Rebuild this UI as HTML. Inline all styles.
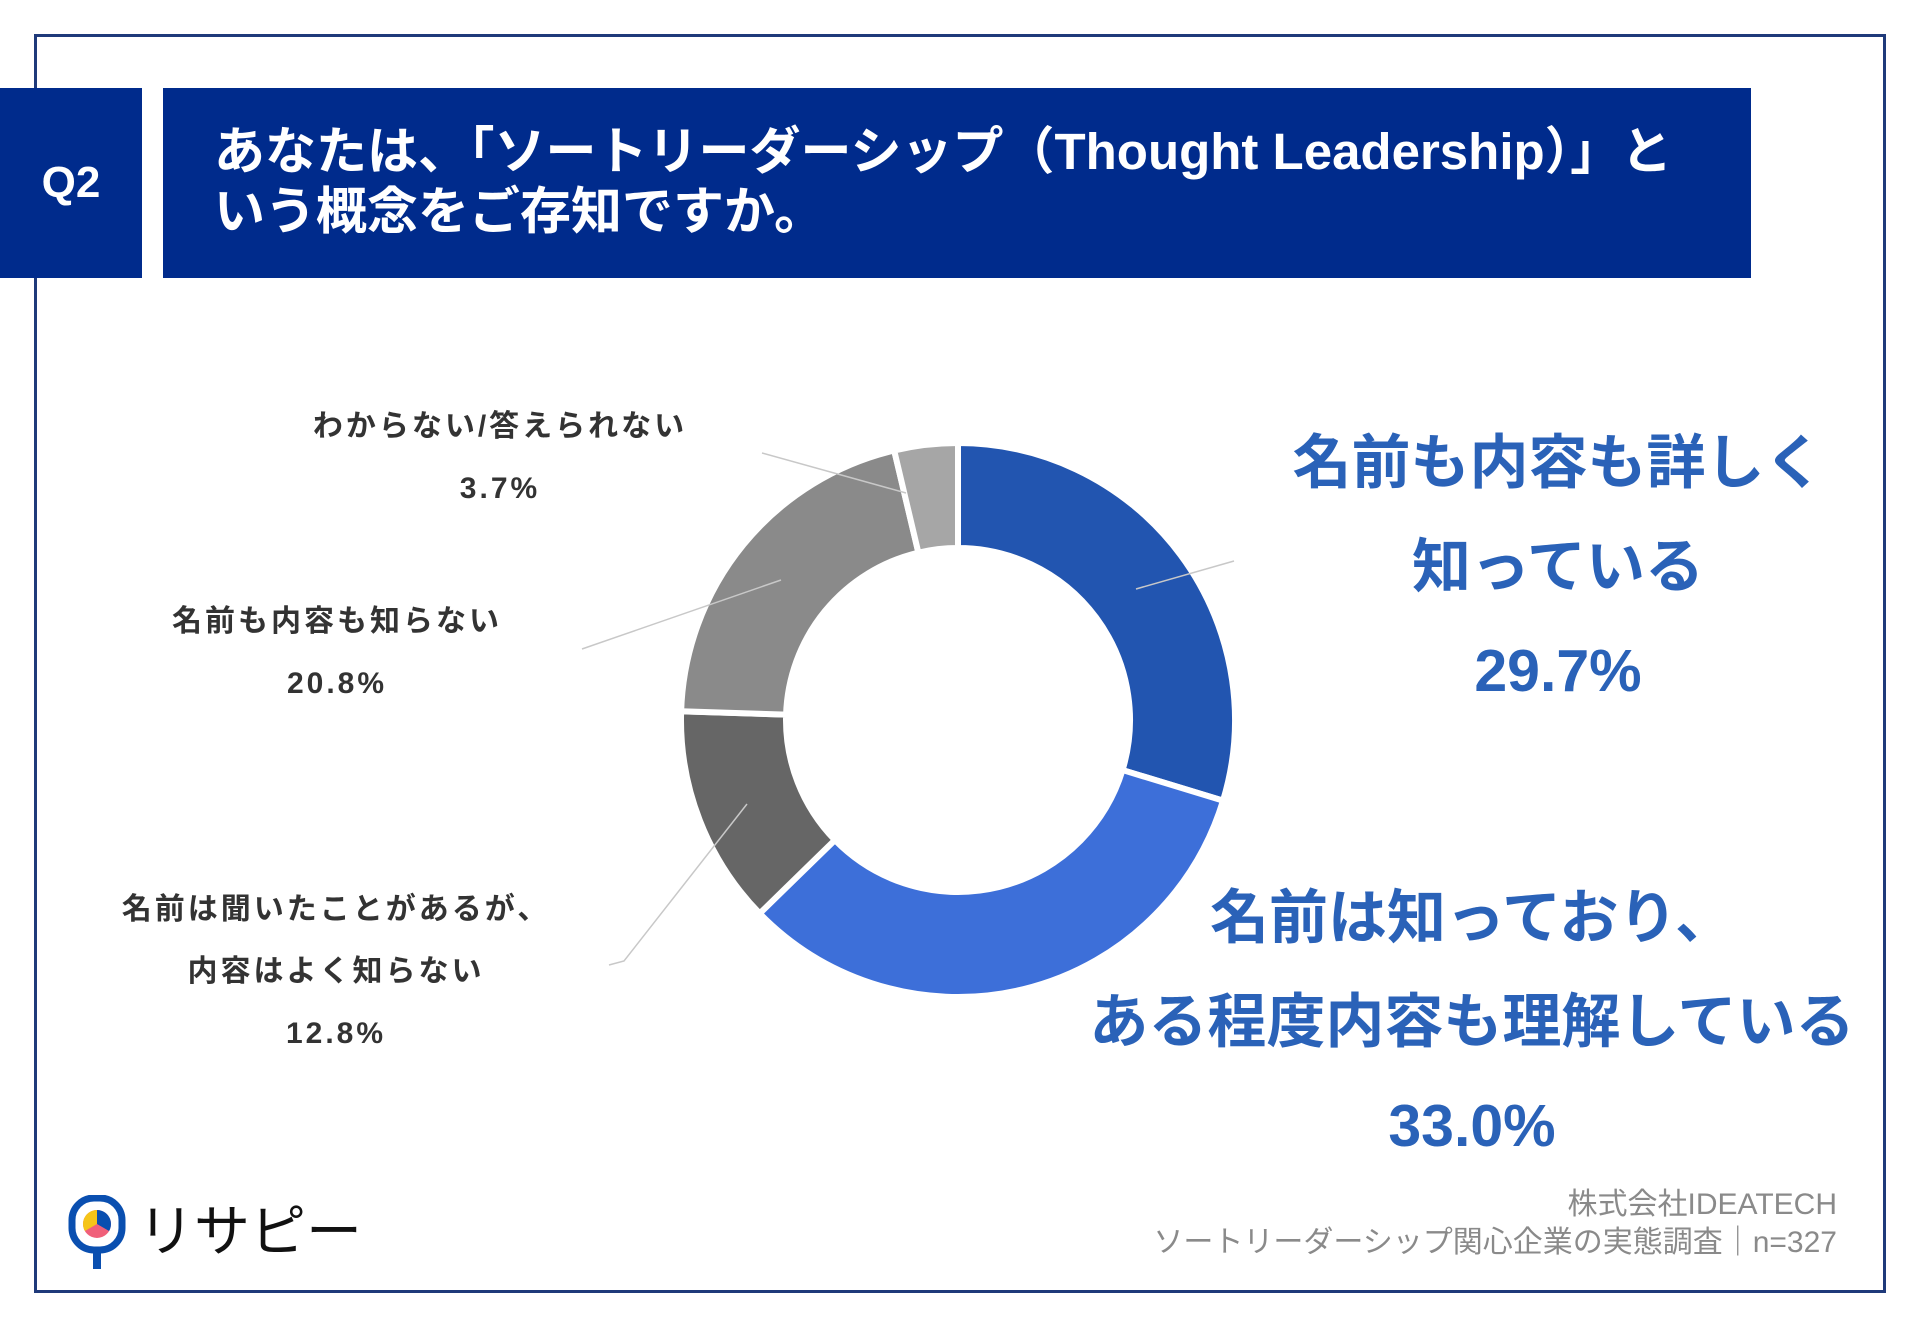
<!DOCTYPE html>
<html><head><meta charset="utf-8">
<style>
html,body{margin:0;padding:0;background:#fff;}
body{width:1920px;height:1329px;position:relative;overflow:hidden;font-family:"Liberation Sans","Noto Sans CJK JP",sans-serif;}
.abs{position:absolute;}
.frame{left:34px;top:34px;width:1852px;height:1259px;border:3px solid #1f3a7a;box-sizing:border-box;}
.q{left:0;top:88px;width:142px;height:190px;background:#002b8c;color:#fff;font-weight:bold;font-size:44px;display:flex;align-items:center;justify-content:center;}
.tbox{left:163px;top:88px;width:1588px;height:190px;background:#002b8c;}
.title{left:214px;top:122px;color:#fff;font-weight:bold;font-size:51px;line-height:60px;white-space:nowrap;}
.lab{color:#333;font-weight:bold;font-size:30px;letter-spacing:3px;text-align:center;white-space:nowrap;transform:translateX(-50%);line-height:62px;}
.big{color:#2a62b8;font-weight:bold;font-size:59px;text-align:center;white-space:nowrap;transform:translateX(-50%);line-height:104px;}
.foot{right:83px;top:1186px;color:#8a8a8a;font-size:30px;text-align:right;line-height:38px;white-space:nowrap;}
</style></head><body>
<div class="abs frame"></div>
<div class="abs q">Q2</div>
<div class="abs tbox"></div>
<div class="abs title">あなたは、「ソートリーダーシップ（Thought Leadership）」と<br>いう概念をご存知ですか。</div>

<svg class="abs" style="left:0;top:0" width="1920" height="1329">
<g id="slices"></g>
<g stroke="#c8c8c8" stroke-width="1.5" fill="none">
<polyline points="762,453 906,493"/>
<polyline points="582,649 781,580"/>
<polyline points="609,965 624,961 747,804"/>
<polyline points="1234,561 1136,589"/>
</g>
</svg>

<div class="abs lab" style="left:500px;top:396px">わからない/答えられない<br>3.7%</div>
<div class="abs lab" style="left:337px;top:591px">名前も内容も知らない<br>20.8%</div>
<div class="abs lab" style="left:336px;top:879px">名前は聞いたことがあるが、<br>内容はよく知らない<br>12.8%</div>
<div class="abs big" style="left:1558px;top:411px">名前も内容も詳しく<br>知っている<br>29.7%</div>
<div class="abs big" style="left:1472px;top:866px">名前は知っており、<br>ある程度内容も理解している<br>33.0%</div>

<div class="abs foot">株式会社IDEATECH<br>ソートリーダーシップ関心企業の実態調査｜n=327</div>

<svg class="abs" style="left:66px;top:1195px" width="300" height="80">
<rect x="6" y="3" width="50" height="52" rx="22" fill="none" stroke="#0a4fb0" stroke-width="7"/>
<rect x="27" y="52" width="8" height="22" fill="#0a4fb0"/>
<circle cx="31" cy="29" r="14" fill="#f0607a"/>
<path d="M31 29 L31 15 A14 14 0 0 0 18.9 36 Z" fill="#f5c518"/>
<path d="M31 29 L31 15 A14 14 0 0 1 43.1 36 Z" fill="#0a4fb0"/>
<text x="72" y="56" font-size="56" font-family="Liberation Sans, Noto Sans CJK JP, sans-serif" fill="#111">リサピー</text>
</svg>

<script>
const categories=["名前も内容も詳しく知っている","名前は知っており、ある程度内容も理解している","名前は聞いたことがあるが、内容はよく知らない","名前も内容も知らない","わからない/答えられない"];
const values=[29.7,33.0,12.8,20.8,3.7];
const colors=["#2255b0","#3d6fd9","#666666","#8a8a8a","#a6a6a6"];
const cx=958,cy=720,R=277,r=172;
const g=document.getElementById('slices');
const total=values.reduce((a,b)=>a+b,0);
function pt(rad,a){return [cx+rad*Math.sin(a),cy-rad*Math.cos(a)];}
let acc=0;
values.forEach((v,i)=>{
  const a0=acc/total*2*Math.PI, a1=(acc+v)/total*2*Math.PI; acc+=v;
  const lg=(a1-a0)>Math.PI?1:0;
  const p1=pt(R,a0),p2=pt(R,a1),p3=pt(r,a1),p4=pt(r,a0);
  const p=document.createElementNS('http://www.w3.org/2000/svg','path');
  p.setAttribute('d',`M${p1} A${R},${R} 0 ${lg} 1 ${p2} L${p3} A${r},${r} 0 ${lg} 0 ${p4} Z`);
  p.setAttribute('fill',colors[i]);
  p.setAttribute('stroke','#fff');
  p.setAttribute('stroke-width','6');
  
  
  g.appendChild(p);
});
</script>
</body></html>
